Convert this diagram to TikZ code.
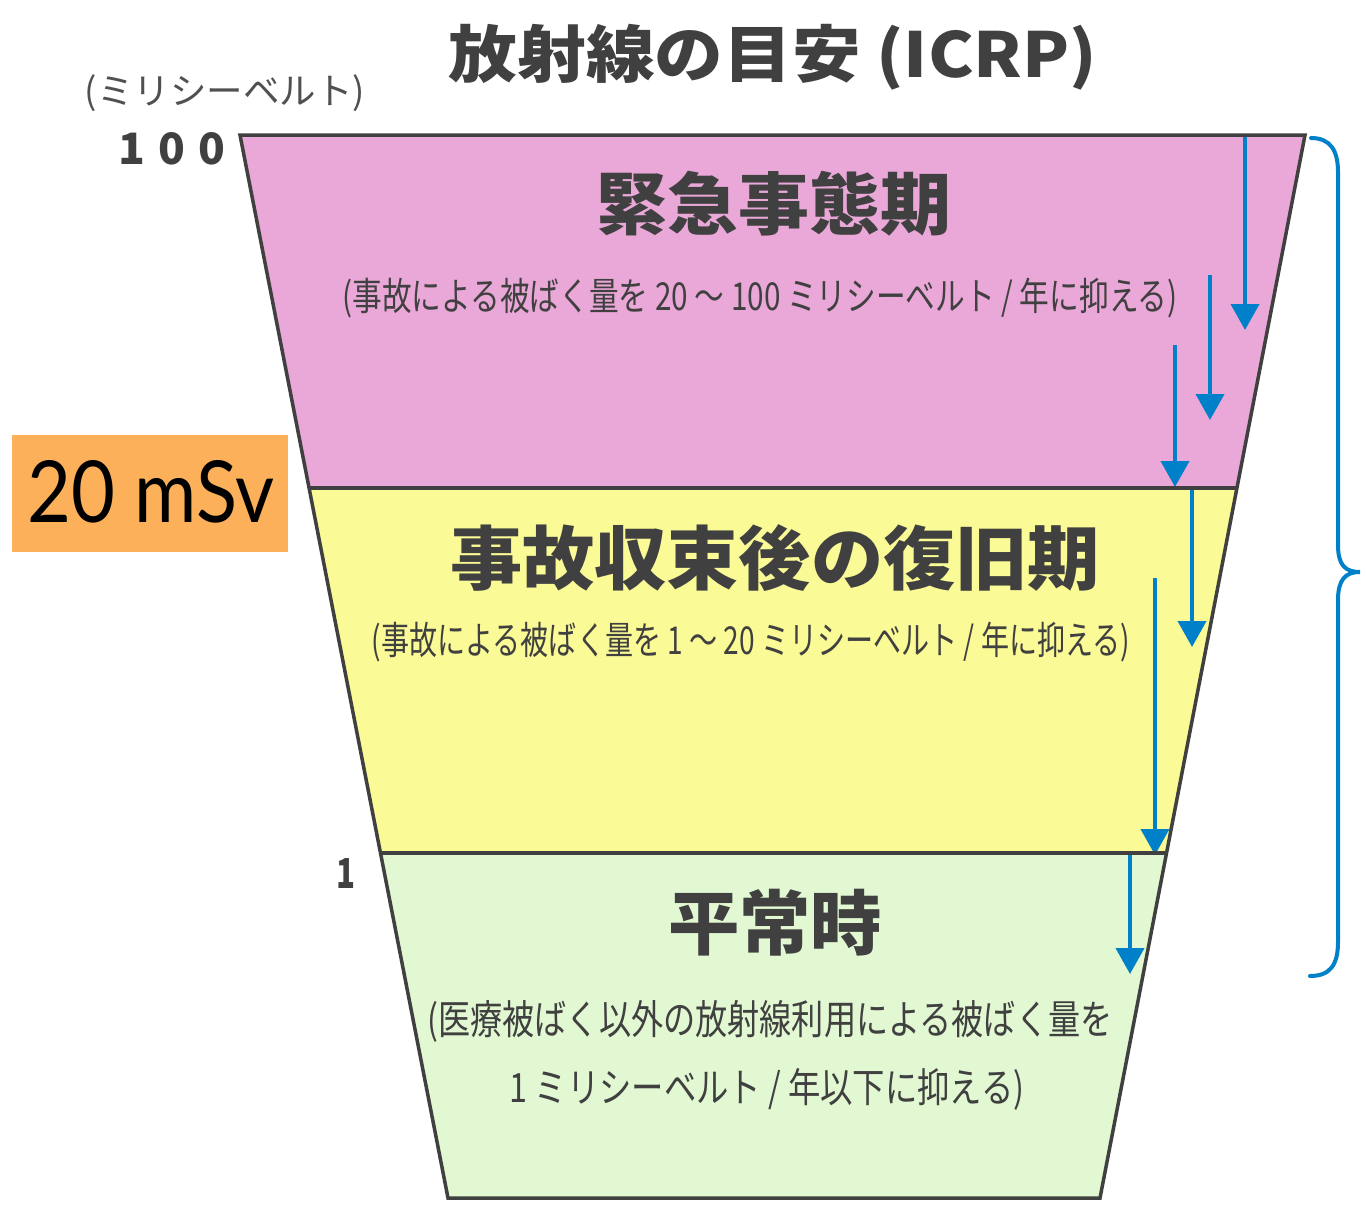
\documentclass[tikz,border=0pt]{standalone}
\usepackage{fontspec}
\usepackage{graphicx}
\usetikzlibrary{arrows.meta}
\newfontfamily\jp{Noto Sans CJK JP}
\newfontfamily\latofont{Lato}
\definecolor{pinkc}{RGB}{234,168,216}
\definecolor{yellowc}{RGB}{250,250,150}
\definecolor{greenc}{RGB}{226,248,210}
\definecolor{orangec}{RGB}{252,176,90}
\definecolor{bluec}{RGB}{0,128,200}
\definecolor{inkc}{RGB}{64,64,64}
\newcommand{\fittxt}[3]{\resizebox*{#1pt}{#2pt}{#3}}
\tikzset{
  outline/.style={draw=inkc, line width=3.5pt, line join=miter},
  txt/.style={inner sep=0pt, text=inkc, anchor=center},
  darrow/.style={draw=bluec, line width=4pt, -{Triangle[width=28pt,length=26pt]}},
  bracec/.style={draw=bluec, line width=4pt, line cap=round}
}
\begin{document}
\begin{tikzpicture}[x=1pt,y=-1pt]
\useasboundingbox (0,0) rectangle (1367,1210);
\fill[white] (0,0) rectangle (1367,1210);
% trapezoid corners
\coordinate (tl) at (240,135);
\coordinate (tr) at (1305,135);
\coordinate (ml1) at (309.1,488);
\coordinate (mr1) at (1236.9,488);
\coordinate (ml2) at (380.5,853);
\coordinate (mr2) at (1166.5,853);
\coordinate (bl) at (448,1198);
\coordinate (br) at (1100,1198);
\fill[pinkc] (tl) -- (tr) -- (mr1) -- (ml1) -- cycle;
\fill[yellowc] (ml1) -- (mr1) -- (mr2) -- (ml2) -- cycle;
\fill[greenc] (ml2) -- (mr2) -- (br) -- (bl) -- cycle;
% arrows
\coordinate (a1s) at (1245,135);  \coordinate (a1e) at (1245,330);
\coordinate (a2s) at (1210,275);  \coordinate (a2e) at (1210,420);
\coordinate (a3s) at (1175,345);  \coordinate (a3e) at (1175,487);
\coordinate (a4s) at (1192,487);  \coordinate (a4e) at (1192,647);
\coordinate (a5s) at (1155,578);  \coordinate (a5e) at (1155,855);
\coordinate (a6s) at (1130,853);  \coordinate (a6e) at (1130,974);
\draw[darrow] (a1s) -- (a1e);
\draw[darrow] (a2s) -- (a2e);
\draw[darrow] (a3s) -- (a3e);
\draw[darrow] (a4s) -- (a4e);
\draw[darrow] (a5s) -- (a5e);
\draw[darrow] (a6s) -- (a6e);
% outline
\draw[outline] (tl) -- (tr) -- (br) -- (bl) -- cycle;
\draw[outline] (ml1) -- (mr1);
\draw[outline] (ml2) -- (mr2);
% brace
\coordinate (b1) at (1311,138);
\coordinate (b2) at (1338,172);
\coordinate (b3) at (1338,545);
\coordinate (btip) at (1360,572);
\coordinate (b4) at (1338,600);
\coordinate (b5) at (1338,942);
\coordinate (b6) at (1310,976);
\draw[bracec] (b1) .. controls (1330,138) and (1338,150) .. (b2) -- (b3)
  .. controls (1338,565) and (1345,572) .. (btip)
  .. controls (1345,572) and (1338,580) .. (b4) -- (b5)
  .. controls (1338,965) and (1330,976) .. (b6);
% texts
\node[txt] (title) at (773,57) {\fittxt{648}{66}{\jp\bfseries 放射線の目安 (ICRP)}};
\node[txt, text={rgb,255:red,80;green,80;blue,80}] (unit) at (225,93) {\fittxt{280}{37}{\jp (ミリシーベルト)}};
\node[txt] (v100) at (172,149) {\resizebox{107pt}{32pt}{\jp\bfseries 1\kern0.3em0\kern0.3em0}};
\node[txt] (v1) at (346,873) {\resizebox{19pt}{30pt}{\jp\bfseries 1}};
\node[txt] (h1) at (774,204) {\fittxt{355}{65}{\jp\bfseries 緊急事態期}};
\node[txt] (s1) at (760,298) {\fittxt{835}{40}{\jp (事故による被ばく量を 20 〜 100 ミリシーベルト / 年に抑える)}};
\node[txt] (h2) at (775,558) {\fittxt{650}{67}{\jp\bfseries 事故収束後の復旧期}};
\node[txt] (s2) at (751,642) {\fittxt{758}{40}{\jp (事故による被ばく量を 1 〜 20 ミリシーベルト / 年に抑える)}};
\node[txt] (h3) at (775,923) {\fittxt{214}{67}{\jp\bfseries 平常時}};
\node[txt] (s3a) at (770,1021) {\fittxt{685}{42}{\jp (医療被ばく以外の放射線利用による被ばく量を}};
\node[txt] (s3b) at (767,1089) {\fittxt{515}{42}{\jp 1 ミリシーベルト / 年以下に抑える)}};
% orange label
\node[fill=orangec, minimum width=276pt, minimum height=117pt, inner sep=0pt] (box) at (150,493.5) {};
\node[inner sep=0pt, text=black] (mSv) at (151,492) {\resizebox{247pt}{62pt}{\latofont 20 mSv}};
\end{tikzpicture}
\end{document}
